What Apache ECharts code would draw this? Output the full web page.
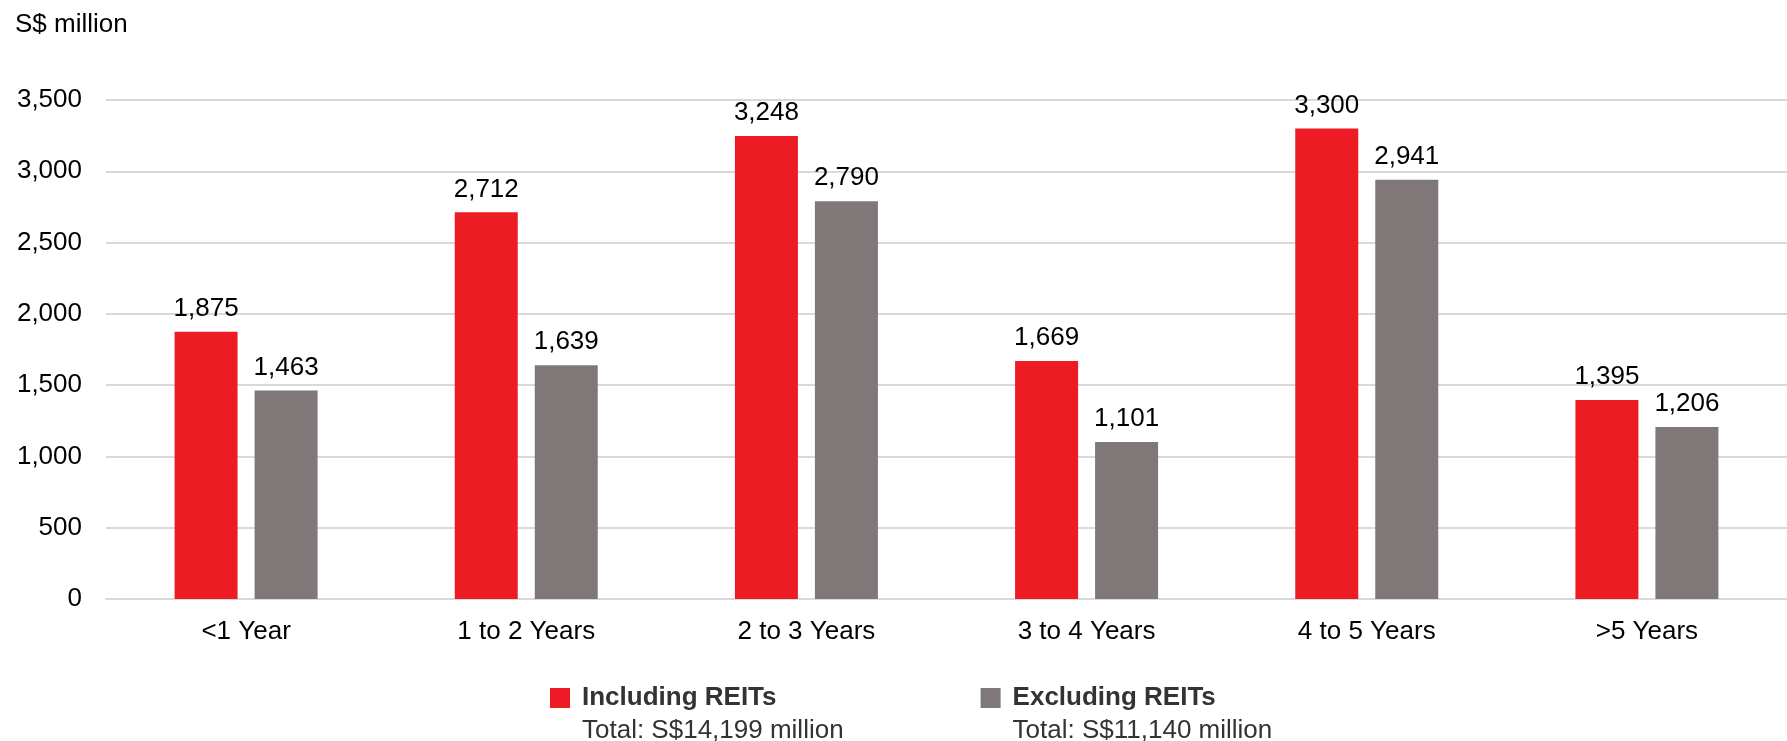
<!DOCTYPE html>
<html>
<head>
<meta charset="utf-8">
<script src="https://cdn.jsdelivr.net/npm/echarts@6/dist/echarts.min.js"></script>
<style>
  html, body { margin: 0; padding: 0; background: #fff; }
  #chart { width: 1787px; height: 741px; }
</style>
</head>
<body>
<div id="chart"></div>
<script>
const categories = ['<1 Year', '1 to 2 Years', '2 to 3 Years', '3 to 4 Years', '4 to 5 Years', '>5 Years']
const includingReits = [1875, 2712, 3248, 1669, 3300, 1395]
const excludingReits = [1463, 1639, 2790, 1101, 2941, 1206]
const seriesNames = ['Including REITs', 'Excluding REITs']
const totals = {
  'Including REITs': 'Total: S$14,199 million',
  'Excluding REITs': 'Total: S$11,140 million'
}

const FONT = '"Liberation Sans", Arial, sans-serif'
const chart = echarts.init(document.getElementById('chart'))

// 数值加千分位
const fmt = (v) => v.toLocaleString('en-US')

const barLabel = {
  show: true,
  position: 'top',
  distance: 10,
  color: '#000',
  fontFamily: FONT,
  fontSize: 26,
  formatter: (p) => fmt(p.value)
}

chart.setOption({
  animation: false,
  title: {
    text: 'S$ million',
    left: 10,
    top: 7,
    textStyle: { color: '#000', fontFamily: FONT, fontSize: 26, fontWeight: 'normal' }
  },
  legend: {
    data: seriesNames,
    left: 550,
    top: 685,
    padding: 0,
    itemWidth: 20,
    itemHeight: 20,
    itemGap: 137,
    icon: 'rect',
    formatter: (name) => `{n|${name}}\n{t|${totals[name]}}`,
    textStyle: {
      padding: [33, 0, 0, 7],
      rich: {
        n: { fontFamily: FONT, fontSize: 26, fontWeight: 'bold', color: '#333', lineHeight: 33 },
        t: { fontFamily: FONT, fontSize: 26, color: '#333', lineHeight: 33 }
      }
    }
  },
  grid: {
    left: 106,
    right: -8,
    top: 100,
    bottom: 142,
    containLabel: false
  },
  xAxis: {
    type: 'category',
    data: categories,
    axisTick: { show: false },
    axisLine: { lineStyle: { color: '#d9d9d9', width: 2 } },
    axisLabel: { color: '#000', fontFamily: FONT, fontSize: 26, margin: 20 }
  },
  yAxis: {
    type: 'value',
    min: 0,
    max: 3500,
    interval: 500,
    axisLine: { show: false },
    axisTick: { show: false },
    splitLine: { lineStyle: { color: '#d9d9d9', width: 2 } },
    axisLabel: { color: '#000', fontFamily: FONT, fontSize: 26, margin: 24, formatter: fmt }
  },
  series: [
    {
      name: seriesNames[0],
      type: 'bar',
      data: includingReits,
      barWidth: 63,
      barGap: '27%',
      itemStyle: { color: '#ED1C24' },
      label: barLabel
    },
    {
      name: seriesNames[1],
      type: 'bar',
      data: excludingReits,
      barWidth: 63,
      itemStyle: { color: '#807878' },
      label: barLabel
    }
  ]
})
</script>
</body>
</html>
